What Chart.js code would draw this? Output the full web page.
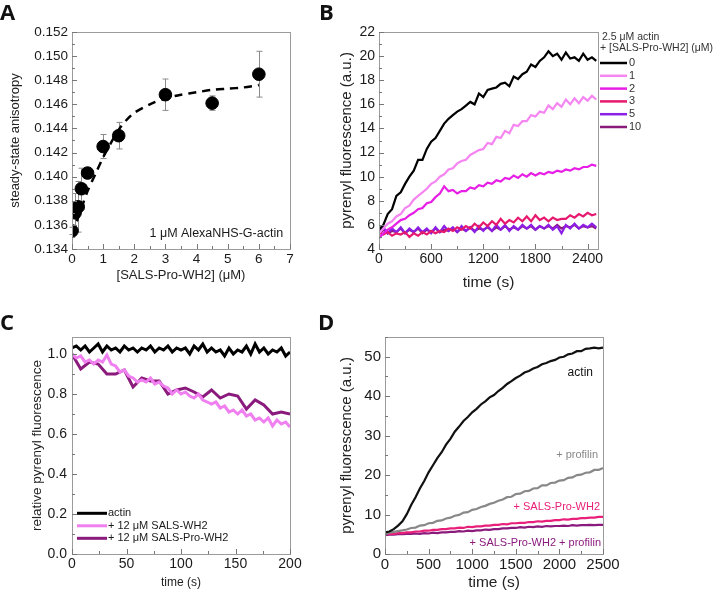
<!DOCTYPE html>
<html>
<head>
<meta charset="utf-8">
<script src="https://cdn.jsdelivr.net/npm/chart.js@4.4.1/dist/chart.umd.min.js"></script>
<style>
  body { margin: 0; background: #fff; width: 713px; height: 592px; position: relative; overflow: hidden; }
  canvas { position: absolute; }
  .tag { position: absolute; font: bold 22px 'Open Sans', 'Liberation Sans', sans-serif; color: #111; line-height: 22px; }
</style>
</head>
<body>
<canvas id="chartA" width="330" height="296" style="left:0;top:0"></canvas>
<canvas id="chartB" width="383" height="296" style="left:330px;top:0"></canvas>
<canvas id="chartC" width="330" height="296" style="left:0;top:296px"></canvas>
<canvas id="chartD" width="383" height="296" style="left:330px;top:296px"></canvas>
<div class="tag" style="left:0;top:0">A</div>
<div class="tag" style="left:319px;top:0">B</div>
<div class="tag" style="left:0;top:310px">C</div>
<div class="tag" style="left:318px;top:310px">D</div>
<script>
Chart.defaults.font.family = "Arial, 'Liberation Sans', sans-serif";
Chart.defaults.color = "#1a1a1a";

// ---------- panel A: anisotropy titration ----------
const aConc = [0, 0.1, 0.2, 0.3, 0.5, 1, 1.5, 3, 4.5, 6];
const aAniso = [0.1355, 0.1370, 0.1375, 0.1390, 0.1403, 0.1425, 0.1434, 0.1468, 0.1461, 0.1485];
const aErr = [0.0003, 0.0016, 0.0021, 0.0017, 0.0003, 0.0010, 0.0011, 0.0013, 0.0006, 0.0019];
// dashed fit
const aFitX = [0, 0.25, 0.5, 0.75, 1, 1.25, 1.5, 1.75, 2, 2.5, 3, 3.5, 4, 4.5, 5, 5.5, 6];
const aFitY = [0.1352, 0.1370, 0.1388, 0.1402, 0.1416, 0.1428, 0.1439, 0.1447, 0.1453, 0.1460, 0.1465, 0.1468, 0.1470, 0.1472, 0.1473, 0.1474, 0.1476];

// ---------- panel B: pyrene polymerization ----------
const bTime = [0,50,100,150,200,250,300,350,400,450,500,550,600,650,700,750,800,850,900,950,1000,1050,1100,1150,1200,1250,1300,1350,1400,1450,1500,1550,1600,1650,1700,1750,1800,1850,1900,1950,2000,2050,2100,2150,2200,2250,2300,2350,2400,2450,2500];
const bTicks = [0, 600, 1200, 1800, 2400];
const bLabels = ["0", "1", "2", "3", "5", "10"];
const bColors = ["#000000", "#f585f0", "#e61ee6", "#e6196e", "#8c1ee6", "#8c1a7a"];
const b0 = [5.6,6.0,6.9,7.3,8.4,8.7,9.4,10.0,10.5,11.4,11.4,12.3,12.9,13.2,13.8,14.4,14.8,15.1,15.4,15.6,15.9,16.2,16.0,16.9,16.6,17.2,17.3,17.4,17.7,17.8,17.5,18.3,18.1,18.5,18.7,19.3,19.1,19.6,19.9,20.4,20.0,20.2,19.7,20.3,19.8,19.9,19.6,20.2,19.7,19.9,19.6];
const b1 = [5.3,5.7,6.1,6.3,6.7,6.9,7.4,7.6,8.1,8.4,8.7,9.0,9.4,9.6,10.0,10.2,10.6,10.7,11.1,11.3,11.4,11.8,12.0,12.2,12.3,12.8,12.7,13.3,13.2,13.8,13.6,14.3,14.2,14.6,14.6,15.1,15.0,15.4,15.3,15.9,15.6,16.1,15.8,16.4,16.0,16.5,16.1,16.6,16.3,16.7,16.4];
const b2 = [4.9,5.3,5.6,5.8,6.1,6.4,6.5,6.8,7.0,7.3,7.4,7.8,7.9,8.3,8.6,9.2,8.8,8.9,8.6,8.8,8.8,9.1,9.0,9.3,9.2,9.5,9.4,9.7,9.6,9.9,9.8,10.1,9.9,10.2,10.0,10.3,10.1,10.3,10.2,10.4,10.3,10.5,10.4,10.6,10.5,10.7,10.6,10.8,10.8,11.0,10.9];
const b3 = [5.4,5.2,5.4,5.1,5.3,5.2,5.4,5.0,5.3,5.1,5.4,5.2,5.5,5.3,5.5,5.4,5.7,5.5,5.8,5.6,5.9,5.7,6.1,5.8,6.2,5.9,6.3,6.0,6.5,6.1,6.4,6.2,6.6,6.3,6.7,6.3,6.8,6.4,6.6,6.3,6.6,6.4,6.5,6.5,6.8,6.6,6.9,6.7,7.0,6.8,6.9];
const b5 = [5.5,5.8,5.3,5.7,5.4,5.8,5.3,5.7,5.4,5.8,5.4,5.7,5.3,5.8,5.4,5.9,5.5,5.8,5.4,5.9,5.5,5.8,5.4,5.9,5.5,5.9,5.5,6.0,5.6,6.0,5.5,5.9,5.6,6.0,5.7,6.0,5.6,5.9,5.7,6.0,5.6,5.9,5.3,6.0,5.7,6.1,5.7,6.0,5.8,6.1,5.8];
const b10 = [5.2,5.6,5.3,5.5,5.4,5.7,5.3,5.6,5.4,5.7,5.3,5.6,5.4,5.7,5.4,5.6,5.5,5.7,5.4,5.7,5.5,5.8,5.5,5.7,5.6,5.8,5.5,5.8,5.6,5.9,5.6,5.8,5.6,5.9,5.7,5.9,5.6,5.9,5.7,5.9,5.7,6.0,5.7,5.9,5.8,6.0,5.7,5.9,5.8,5.9,5.7];
const bSeries = [b0, b1, b2, b3, b5, b10];

// ---------- panel C: depolymerization ----------
const cTime = [0,4,8,12,16,20,24,28,32,36,40,44,48,52,56,60,64,68,72,76,80,84,88,92,96,100,104,108,112,116,120,124,128,132,136,140,144,148,152,156,160,164,168,172,176,180,184,188,192,196,200];
const cActin = [1.03,1.04,1.02,1.04,1.01,1.03,1.05,1.01,1.04,1.02,1.03,1.01,1.04,1.02,1.03,1.01,1.03,1.02,1.04,1.01,1.03,1.02,1.04,1.01,1.03,1.02,1.03,1.00,1.04,1.02,1.05,1.01,1.03,1.01,1.02,0.99,1.03,1.00,1.02,1.01,1.04,1.00,1.05,1.01,1.03,1.00,1.02,1.01,1.03,0.99,1.01];
const cWH2 = [1.00,0.98,0.99,0.96,0.97,0.95,0.97,0.96,0.995,0.95,0.94,0.91,0.92,0.89,0.88,0.86,0.87,0.86,0.88,0.85,0.86,0.84,0.83,0.80,0.82,0.80,0.81,0.79,0.78,0.80,0.77,0.76,0.75,0.76,0.73,0.74,0.71,0.72,0.70,0.72,0.69,0.70,0.67,0.68,0.66,0.68,0.64,0.67,0.65,0.66,0.635];
const cProTime = [0,8,16,24,32,40,48,56,64,72,80,88,96,104,112,120,128,136,144,152,160,168,176,184,192,200];
const cProWH2 = [1.0,0.925,0.96,0.95,0.90,0.90,0.92,0.835,0.88,0.865,0.865,0.80,0.82,0.83,0.81,0.785,0.82,0.78,0.80,0.79,0.725,0.77,0.745,0.70,0.71,0.70];

// ---------- panel D: profilin ----------
const dTime = bTime;
const dActin = [5.5,5.7,6.3,7.2,8.3,10.1,12.4,14.4,16.6,18.5,20.7,22.5,24.3,25.8,27.7,29.2,31.0,32.3,33.7,34.7,35.9,36.8,37.9,38.7,39.7,40.3,41.3,42.1,43.1,43.8,44.6,45.2,46.0,46.4,47.0,47.4,48.1,48.4,48.9,49.2,49.8,50.0,50.6,50.8,51.4,51.4,52.0,52.1,52.3,52.1,52.3];
const dProfilin = [5.3,5.4,5.6,5.8,6.0,6.2,6.6,6.7,7.2,7.3,7.8,7.9,8.4,8.5,9.0,9.2,9.7,9.9,10.5,10.6,11.2,11.4,11.9,12.2,12.7,13.0,13.5,13.8,14.4,14.5,15.2,15.3,15.9,16.0,16.6,16.7,17.4,17.4,18.0,18.1,18.6,18.7,19.3,19.4,20.0,20.1,20.6,20.7,21.3,21.3,21.8];
const dSals = [5.0,5.1,5.1,5.3,5.3,5.5,5.5,5.7,5.7,5.9,5.9,6.1,6.1,6.3,6.3,6.5,6.5,6.7,6.6,6.9,6.8,7.0,7.0,7.2,7.2,7.4,7.4,7.6,7.5,7.8,7.8,7.9,7.9,8.1,8.1,8.3,8.2,8.4,8.4,8.6,8.6,8.8,8.7,8.9,8.9,9.1,9.1,9.2,9.2,9.4,9.4];
const dSalsProf = [4.8,4.9,4.9,5.0,5.0,5.1,5.1,5.2,5.1,5.3,5.2,5.4,5.3,5.5,5.5,5.6,5.6,5.8,5.7,5.9,5.8,6.0,6.0,6.2,6.1,6.3,6.3,6.5,6.5,6.6,6.6,6.8,6.7,6.9,6.8,7.0,6.9,7.1,7.0,7.1,7.1,7.2,7.1,7.3,7.2,7.3,7.3,7.4,7.3,7.4,7.4];

const pts = (xs, ys) => xs.map((x, i) => ({ x: x, y: ys[i] }));
const FONT = "Arial, 'Liberation Sans', sans-serif";

// box around plot area plus small inward ticks (major and minor)
const frame = {
    id: "frame",
    afterDraw(chart, args, opts) {
        const { ctx, chartArea: a } = chart;
        ctx.save();
        ctx.strokeStyle = "#9b9b9b";
        ctx.lineWidth = 1;
        ctx.strokeRect(Math.round(a.left) + 0.5, Math.round(a.top) + 0.5, Math.round(a.width), Math.round(a.height));
        ctx.strokeStyle = "#777";
        ctx.beginPath();
        const sx = chart.scales.x, sy = chart.scales.y;
        for (let i = 0; ; i++) {
            const v = sx.min + i * opts.xMinor;
            if (v > sx.max + 1e-9) break;
            const major = sx.ticks.some(t => Math.abs(t.value - v) < opts.xMinor * 0.01);
            const px = Math.round(sx.getPixelForValue(v)) + 0.5;
            ctx.moveTo(px, a.bottom);
            ctx.lineTo(px, a.bottom - (major ? 5 : 3));
        }
        for (let i = 0; ; i++) {
            const v = sy.min + i * opts.yMinor;
            if (v > sy.max + 1e-9) break;
            const major = sy.ticks.some(t => Math.abs(t.value - v) < opts.yMinor * 0.01);
            const py = Math.round(sy.getPixelForValue(v)) + 0.5;
            ctx.moveTo(a.left, py);
            ctx.lineTo(a.left + (major ? 5 : 3), py);
        }
        ctx.stroke();
        ctx.restore();
    },
};

// common scale builder; widths/heights fixed so the plot boxes line up
const axis = (min, max, step, size, fontSize, title, titleSize, titlePad, fmt, tickPad) => ({
    type: "linear",
    min: min,
    max: max,
    grid: { display: false, drawTicks: false },
    border: { display: false },
    ticks: { stepSize: step, includeBounds: false, font: { size: fontSize }, padding: tickPad, callback: fmt },
    title: { display: true, text: title, font: { size: titleSize }, padding: titlePad, color: "#222" },
    afterFit(scale) {
        if (scale.isHorizontal()) scale.height = size; else scale.width = size;
    },
});

const baseOpts = (pad) => ({
    responsive: false,
    animation: false,
    layout: { padding: pad },
    plugins: { legend: { display: false }, tooltip: { enabled: false } },
});

// ----- A -----
const errorBars = {
    id: "errorBars",
    beforeDatasetsDraw(chart) {
        const { ctx } = chart;
        const sx = chart.scales.x, sy = chart.scales.y;
        ctx.save();
        ctx.strokeStyle = "#8a8a8a";
        ctx.lineWidth = 1;
        ctx.beginPath();
        aConc.forEach((c, i) => {
            const px = Math.round(sx.getPixelForValue(c)) + 0.5;
            const top = sy.getPixelForValue(aAniso[i] + aErr[i]);
            const bot = sy.getPixelForValue(aAniso[i] - aErr[i]);
            ctx.moveTo(px, top); ctx.lineTo(px, bot);
            ctx.moveTo(px - 3, top); ctx.lineTo(px + 3, top);
            ctx.moveTo(px - 3, bot); ctx.lineTo(px + 3, bot);
        });
        ctx.stroke();
        ctx.fillStyle = "#1a1a1a";
        ctx.font = "12.5px " + FONT;
        ctx.textAlign = "right";
        ctx.textBaseline = "middle";
        ctx.fillText("1 \u03bcM AlexaNHS-G-actin", sx.getPixelForValue(6.78), sy.getPixelForValue(0.1353));
        ctx.restore();
    },
};

const optsA = baseOpts({ top: 32, right: 40, left: 0, bottom: 0 });
optsA.scales = {
    x: axis(0, 7, 1, 47, 13.5, "[SALS-Pro-WH2] (\u03bcM)", 13, { top: 0, bottom: 13 }, v => v, 2),
    y: axis(0.134, 0.152, 0.002, 72, 13.5, "steady-state anisotropy", 13, { top: 8, bottom: 0 }, v => v.toFixed(3), 4),
};
optsA.plugins.frame = { xMinor: 0.5, yMinor: 0.001 };

new Chart(document.getElementById("chartA"), {
    type: "scatter",
    plugins: [frame, errorBars],
    data: {
        datasets: [
            { label: "anisotropy", data: pts(aConc, aAniso), backgroundColor: "#000", borderColor: "#000", pointRadius: 6.3 },
            { label: "fit", data: pts(aFitX, aFitY), showLine: true, borderColor: "#000", borderWidth: 2.5, borderDash: [8, 6], pointRadius: 0, tension: 0.3 },
        ],
    },
    options: optsA,
});

// ----- B -----
const legendB = {
    id: "legendB",
    afterDraw(chart) {
        const ctx = chart.ctx;
        ctx.save();
        ctx.font = "10.5px " + FONT;
        ctx.fillStyle = "#333";
        ctx.textBaseline = "middle";
        ctx.fillText("2.5 \u03bcM actin", 272, 37);
        ctx.fillText("+ [SALS-Pro-WH2] (\u03bcM)", 270, 48);
        ctx.font = "11px " + FONT;
        chart.data.datasets.forEach((ds, i) => {
            const y = 63 + i * 12.8;
            ctx.strokeStyle = ds.borderColor;
            ctx.lineWidth = 2.5;
            ctx.beginPath();
            ctx.moveTo(270, y); ctx.lineTo(297, y);
            ctx.stroke();
            ctx.fillText(ds.label, 299, y);
        });
        ctx.restore();
    },
};

const optsB = baseOpts({ top: 32, right: 115, left: 0, bottom: 0 });
optsB.scales = {
    x: axis(0, 2520, 600, 47, 14, "time (s)", 15.5, { top: 0, bottom: 4 }, v => v, 2),
    y: axis(4, 22, 2, 49, 14, "pyrenyl fluorescence (a.u.)", 15, { top: 8, bottom: 0 }, v => v, 4),
};
// the axis ends a little past 2400, keep the labels on multiples of 600
optsB.scales.x.afterBuildTicks = (scale) => {
    scale.ticks = bTicks.map(v => ({ value: v }));
};
optsB.plugins.frame = { xMinor: 300, yMinor: 1 };

new Chart(document.getElementById("chartB"), {
    type: "scatter",
    plugins: [frame, legendB],
    data: {
        datasets: bSeries.map((s, i) => ({
            label: bLabels[i],
            data: pts(bTime, s),
            showLine: true,
            borderColor: bColors[i],
            borderWidth: 2.2,
            pointRadius: 0,
        })),
    },
    options: optsB,
});

// ----- C -----
const legendC = {
    id: "legendC",
    afterDraw(chart) {
        const ctx = chart.ctx;
        ctx.save();
        ctx.font = "11px " + FONT;
        ctx.fillStyle = "#1a1a1a";
        ctx.textBaseline = "middle";
        chart.data.datasets.forEach((ds, i) => {
            const y = 217.3 + i * 12.5;
            ctx.strokeStyle = ds.borderColor;
            ctx.lineWidth = 3;
            ctx.beginPath();
            ctx.moveTo(77, y); ctx.lineTo(107, y);
            ctx.stroke();
            ctx.fillText(ds.label, 108, y);
        });
        ctx.restore();
    },
};

const optsC = baseOpts({ top: 41, right: 40, left: 0, bottom: 0 });
optsC.scales = {
    x: axis(0, 200, 50, 38, 14, "time (s)", 12, { top: 0, bottom: 2 }, v => v, 2),
    y: axis(0, 1.085, 0.2, 72, 14, "relative pyrenyl fluorescence", 13.5, { top: 29, bottom: 0 }, v => v.toFixed(1), 5),
};
optsC.plugins.frame = { xMinor: 25, yMinor: 0.1 };

new Chart(document.getElementById("chartC"), {
    type: "scatter",
    plugins: [frame, legendC],
    data: {
        datasets: [
            { label: "actin", data: pts(cTime, cActin), showLine: true, borderColor: "#000", borderWidth: 3, pointRadius: 0 },
            { label: "+ 12 \u03bcM SALS-WH2", data: pts(cTime, cWH2), showLine: true, borderColor: "#f080f0", borderWidth: 3, pointRadius: 0 },
            { label: "+ 12 \u03bcM SALS-Pro-WH2", data: pts(cProTime, cProWH2), showLine: true, borderColor: "#8b1a7d", borderWidth: 3, pointRadius: 0 },
        ],
    },
    options: optsC,
});

// ----- D -----
const labelsD = {
    id: "labelsD",
    afterDraw(chart) {
        const ctx = chart.ctx;
        const sx = chart.scales.x, sy = chart.scales.y;
        ctx.save();
        ctx.textAlign = "right";
        ctx.textBaseline = "middle";
        chart.data.datasets.forEach(ds => {
            ctx.font = ds.tagSize + "px " + FONT;
            ctx.fillStyle = ds.borderColor;
            ctx.fillText(ds.label, sx.getPixelForValue(ds.tagX), sy.getPixelForValue(ds.tagY));
        });
        ctx.restore();
    },
};

const optsD = baseOpts({ top: 41, right: 110, left: 0, bottom: 0 });
optsD.scales = {
    x: axis(0, 2500, 500, 38, 15, "time (s)", 15.5, { top: 0, bottom: 0 }, v => v, 2),
    y: axis(0, 55, 10, 55, 15, "pyrenyl fluorescence (a.u.)", 15, { top: 8, bottom: 0 }, v => v, 4),
};
optsD.plugins.frame = { xMinor: 250, yMinor: 5 };

new Chart(document.getElementById("chartD"), {
    type: "scatter",
    plugins: [frame, labelsD],
    data: {
        datasets: [
            { label: "actin", data: pts(dTime, dActin), borderColor: "#111", tagX: 2385, tagY: 46, tagSize: 12 },
            { label: "+ profilin", data: pts(dTime, dProfilin), borderColor: "#888888", tagX: 2443, tagY: 25.1, tagSize: 11 },
            { label: "+ SALS-Pro-WH2", data: pts(dTime, dSals), borderColor: "#e8207a", tagX: 2466, tagY: 11.9, tagSize: 11 },
            { label: "+ SALS-Pro-WH2 + profilin", data: pts(dTime, dSalsProf), borderColor: "#8b1a7d", tagX: 2477, tagY: 2.8, tagSize: 11 },
        ].map(ds => Object.assign(ds, { showLine: true, borderWidth: 2.2, pointRadius: 0 })),
    },
    options: optsD,
});
</script>
</body>
</html>
